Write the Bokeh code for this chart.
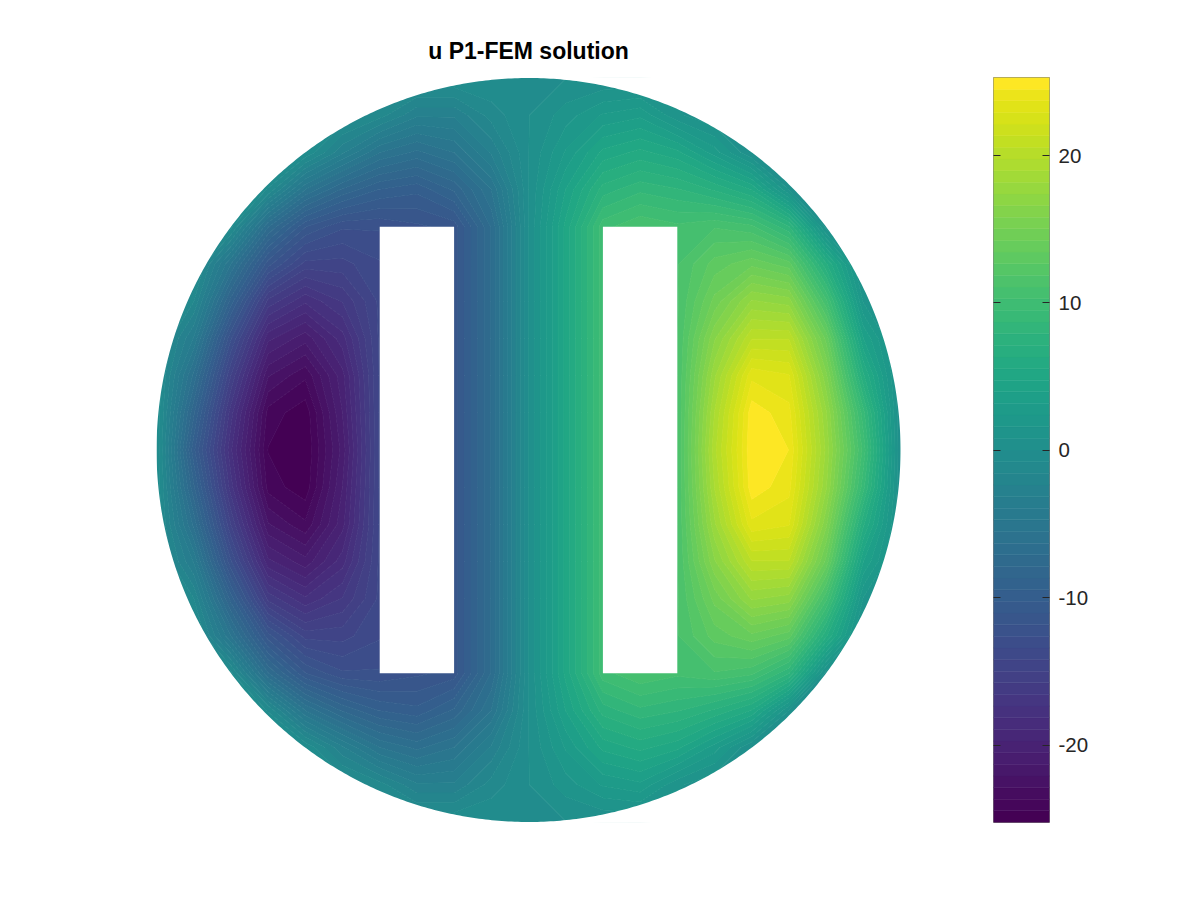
import numpy as np
from bokeh.plotting import figure
from bokeh.layouts import row
from bokeh.models import LinearAxis, Range1d, FixedTicker
from bokeh.palettes import Viridis256
from bokeh.embed import file_html
from bokeh.resources import INLINE

TITLE = "u P1-FEM solution"
cbar_ticks = [-20, -10, 0, 10, 20]
cbar_labels = ["-20", "-10", "0", "10", "20"]
u_low, u_high = -25.25, 25.3

# node positions x = -1.0 ... 1.0 (step 0.1); one row per y level
x_nodes = [-1,-.9,-.8,-.7,-.6,-.5,-.4,-.3,-.2,-.1,0,.1,.2,.3,.4,.5,.6,.7,.8,.9,1]
y_nodes = [-1,-.9,-.8,-.7,-.6,-.5,-.4,-.3,-.2,-.1,0,.1,.2,.3,.4,.5,.6,.7,.8,.9,1]
u_p10 = [0,0,0,0,0,0,0,0,0,0,0,0,0,0,0,0,0,0,0,0,0]
u_p09 = [0,0,0,0,0,0,-1.2,-3,-3,-1.2,0,1.2,2.5,3,1,0,0,0,0,0,0]
u_p08 = [0,0,0,0,0,-3,-5.5,-6.5,-5.5,-3,0,2.5,5,5.8,5,2.8,0,0,0,0,0]
u_p07 = [0,0,0,-.8,-5.5,-8,-9.5,-10,-8.5,-5.5,0,4,7.5,8.5,8,7,5.5,.8,0,0,0]
u_p06 = [0,0,-.5,-7,-11,-12.5,-12.5,-12,-11.5,-7,0,5,10,11,10.5,11,10.5,8,.5,0,0]
u_p05 = [0,0,-5.5,-11.5,-14.5,-14.5,-13.5,-13,-11.5,-7,0,5,10,10.5,11,13,14,13,6.5,0,0]
u_p04 = [0,-1.5,-9,-16,-18,-16.5,-14,-13,-11.5,-7,0,5,10,10.5,11,14.5,17.5,17,10.5,1.5,0]
u_p03 = [0,-4,-12.5,-19.5,-21,-18.5,-14,-13,-11.5,-7,0,5,10,10.5,11,16.5,20.5,20.5,14,4,0]
u_p02 = [0,-6.5,-15,-22,-23.5,-20,-14,-13,-11.5,-7,0,5,10,10.5,11,18,23.5,23,16,6.5,0]
u_p01 = [0,-8.5,-17,-24,-25,-20.5,-14,-13,-11.5,-7,0,5,10,10.5,11,19,25,24,17.5,9,0]
u_000 = [0,-10,-18,-24.5,-25.2,-21,-14,-13,-11.5,-7,0,5,10,10.5,11,19.5,25.2,24.5,18,10,0]
u_m01 = [0,-8.5,-17,-24,-25,-20.5,-14,-13,-11.5,-7,0,5,10,10.5,11,19,25,24,17.5,9,0]
u_m02 = [0,-6.5,-15,-22,-23.5,-20,-14,-13,-11.5,-7,0,5,10,10.5,11,18,23.5,23,16,6.5,0]
u_m03 = [0,-4,-12.5,-19.5,-21,-18.5,-14,-13,-11.5,-7,0,5,10,10.5,11,16.5,20.5,20.5,14,4,0]
u_m04 = [0,-1.5,-9,-16,-18,-16.5,-14,-13,-11.5,-7,0,5,10,10.5,11,14.5,17.5,17,10.5,1.5,0]
u_m05 = [0,0,-5.5,-11.5,-14.5,-14.5,-13.5,-13,-11.5,-7,0,5,10,10.5,11,13,14,13,6.5,0,0]
u_m06 = [0,0,-.5,-7,-11,-12.5,-12.5,-12,-11.5,-7,0,5,10,11,10.5,11,10.5,8,.5,0,0]
u_m07 = [0,0,0,-.8,-5.5,-8,-9.5,-10,-8.5,-5.5,0,4,7.5,8.5,8,7,5.5,.8,0,0,0]
u_m08 = [0,0,0,0,0,-3,-5.5,-6.5,-5.5,-3,0,2.5,5,5.8,5,2.8,0,0,0,0,0]
u_m09 = [0,0,0,0,0,0,-1.2,-3,-3,-1.2,0,1.2,2.5,3,1,0,0,0,0,0,0]
u_m10 = [0,0,0,0,0,0,0,0,0,0,0,0,0,0,0,0,0,0,0,0,0]

rows_bottom_up = [u_m10,u_m09,u_m08,u_m07,u_m06,u_m05,u_m04,u_m03,u_m02,u_m01,u_000,
                  u_p01,u_p02,u_p03,u_p04,u_p05,u_p06,u_p07,u_p08,u_p09,u_p10]
field = np.array(rows_bottom_up, dtype=float)

palette = list(Viridis256[::4])
palette[-1] = Viridis256[-1]
edges = np.linspace(u_low, u_high, len(palette)+1)

R = 372.0
FL, FR = 100, 956   # main frame, centred on x = 528
p = figure(width=968, height=884, output_backend="svg", toolbar_location=None,
           x_range=Range1d(-(528-FL)/R, (FR-528)/R), y_range=Range1d(-372.5/R, 372.5/R),
           min_border_left=FL, min_border_right=968-FR, min_border_top=77, min_border_bottom=62)
p.axis.visible = False
p.grid.visible = False
p.outline_line_color = None
p.title.text = TITLE
p.title.align = "center"
p.title.text_font = "Liberation Sans"
p.title.text_font_style = "bold"
p.title.text_font_size = "23px"
p.title.text_color = "black"
p.title.standoff = 28

p.contour(x_nodes, y_nodes, field, levels=list(edges), fill_color=palette,
          line_color=palette + [palette[-1]], line_width=1.0)

th = np.linspace(0, 2*np.pi, 720)
outer_x = [-1.2, 1.2, 1.2, -1.2]
outer_y = [-1.2, -1.2, 1.2, 1.2]
p.multi_polygons(xs=[[[outer_x, list(np.cos(th))]]], ys=[[[outer_y, list(np.sin(th))]]],
                 fill_color="white", line_color=None)
p.quad(left=[-.4, .2], right=[-.2, .4], bottom=[-.6, -.6], top=[.6, .6],
       fill_color="white", line_color=None)

# colour bar
cb = figure(width=216, height=884, output_backend="svg", toolbar_location=None,
            x_range=Range1d(0, 1), y_range=Range1d(u_low, u_high),
            min_border_left=25, min_border_right=135, min_border_top=77, min_border_bottom=62,
            x_axis_location=None, y_axis_location=None)
cb.grid.visible = False
cb.outline_line_color = "#7f7f7f"
cb.outline_line_width = 1
cb.quad(left=0, right=1, bottom=edges[:-1], top=edges[1:], fill_color=palette, line_color=palette, line_width=0.5)
for side, show in (("right", True), ("left", False)):
    ax = LinearAxis(ticker=FixedTicker(ticks=cbar_ticks), axis_line_color=None,
                    major_tick_in=7, major_tick_out=0, minor_tick_line_color=None,
                    major_tick_line_color="#262626", major_label_standoff=9,
                    major_label_text_font="Liberation Sans", major_label_text_font_size="20.5px",
                    major_label_text_color="#262626")
    if show:
        ax.major_label_overrides = dict(zip(cbar_ticks, cbar_labels))
    else:
        ax.major_label_overrides = {t: "" for t in cbar_ticks}
        ax.major_label_standoff = 0
    cb.add_layout(ax, side)

layout = row(p, cb, spacing=0)
open("out.html", "w").write(file_html(layout, INLINE))
